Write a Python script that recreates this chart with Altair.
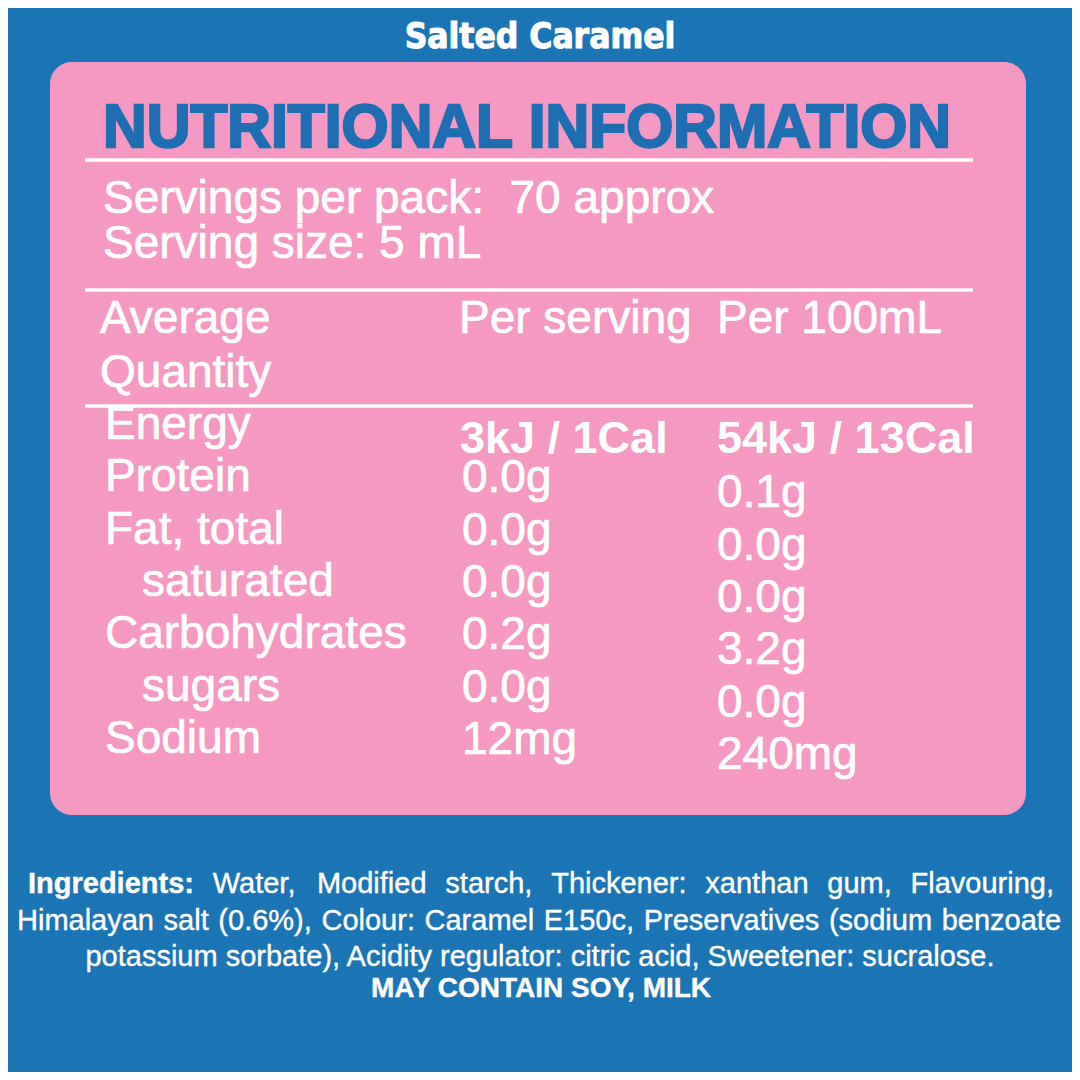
import altair as alt
import pandas as pd

# ---------------- data ----------------
title_text = "Salted Caramel"
heading = "NUTRITIONAL INFORMATION"
serving_lines = ["Servings per pack:\u00a0 70 approx", "Serving size: 5 mL"]
qty_header = ["Average", "Quantity"]
col_headers = ["Per serving", "Per 100mL"]
nutrients = ["Energy", "Protein", "Fat, total", "saturated", "Carbohydrates", "sugars", "Sodium"]
sub_row = [False, False, False, True, False, True, False]
per_serving = ["3kJ / 1Cal", "0.0g", "0.0g", "0.0g", "0.2g", "0.0g", "12mg"]
per_100ml = ["54kJ / 13Cal", "0.1g", "0.0g", "0.0g", "3.2g", "0.0g", "240mg"]
ingr_line1 = [("Ingredients:", True), ("Water,", False), ("Modified", False), ("starch,", False),
              ("Thickener:", False), ("xanthan", False), ("gum,", False), ("Flavouring,", False)]
ingr_line2 = "Himalayan salt (0.6%), Colour: Caramel E150c, Preservatives (sodium benzoate"
ingr_line3 = "potassium sorbate), Acidity regulator: citric acid, Sweetener: sucralose."
allergens = "MAY CONTAIN SOY, MILK"

# ---------------- style / layout ----------------
BLUE = "#1b75b4"
PINK = "#f599c2"
HEAD_BLUE = "#1d6fb1"
WHITE = "#ffffff"
SANS = "Liberation Sans, Arial, Helvetica, sans-serif"
NARROW = "DejaVu Sans Condensed, sans-serif"
TS = 46          # table font size
IS = 29          # ingredients font size

# Helvetica/Arial (Liberation Sans) advance widths, per 1000 em
REG = {' ': 278, '%': 889, '(': 333, ')': 333, ',': 278, '.': 278, '/': 278, ':': 278,
       'A': 667, 'B': 667, 'C': 722, 'D': 722, 'E': 667, 'F': 611, 'G': 778, 'H': 722, 'I': 278,
       'J': 500, 'K': 667, 'L': 556, 'M': 833, 'N': 722, 'O': 778, 'P': 667, 'Q': 778, 'R': 722,
       'S': 667, 'T': 611, 'U': 722, 'V': 667, 'W': 944, 'X': 667, 'Y': 667, 'Z': 611,
       'a': 556, 'b': 556, 'c': 500, 'd': 556, 'e': 556, 'f': 278, 'g': 556, 'h': 556, 'i': 222,
       'j': 222, 'k': 500, 'l': 222, 'm': 833, 'n': 556, 'o': 556, 'p': 556, 'q': 556, 'r': 333,
       's': 500, 't': 278, 'u': 556, 'v': 500, 'w': 722, 'x': 500, 'y': 500, 'z': 500}
BOLD = {' ': 278, '%': 889, '(': 333, ')': 333, ',': 278, '.': 278, '/': 278, ':': 333,
        'A': 722, 'B': 722, 'C': 722, 'D': 722, 'E': 667, 'F': 611, 'G': 778, 'H': 722, 'I': 278,
        'J': 556, 'K': 722, 'L': 611, 'M': 833, 'N': 722, 'O': 778, 'P': 667, 'Q': 778, 'R': 722,
        'S': 667, 'T': 611, 'U': 722, 'V': 667, 'W': 944, 'X': 667, 'Y': 667, 'Z': 611,
        'a': 556, 'b': 611, 'c': 556, 'd': 611, 'e': 556, 'f': 333, 'g': 611, 'h': 611, 'i': 278,
        'j': 278, 'k': 556, 'l': 278, 'm': 889, 'n': 611, 'o': 611, 'p': 611, 'q': 611, 'r': 389,
        's': 556, 't': 333, 'u': 611, 'v': 556, 'w': 778, 'x': 556, 'y': 556, 'z': 500}


def text_width(s, size, bold=False):
    tab = BOLD if bold else REG
    return sum(tab.get(ch, 556) for ch in s) * size / 1000.0


def justify(words, left, right, y, size):
    total = sum(text_width(w, size, b) for w, b in words)
    gap = (right - left - total) / (len(words) - 1)
    rows, x = [], left
    for w, b in words:
        rows.append({"x": x, "y": y, "t": w, "bold": b})
        x += text_width(w, size, b) + gap
    return rows


xs = alt.Scale(domain=[8, 1072], nice=False, zero=False)
ys = alt.Scale(domain=[8, 1072], nice=False, zero=False, reverse=True)


def X(f="x"):
    return alt.X(f"{f}:Q", scale=xs, axis=None)


def Y(f="y"):
    return alt.Y(f"{f}:Q", scale=ys, axis=None)


def text_layer(rows, **kw):
    base = dict(baseline="alphabetic", font=SANS, color=WHITE)
    base.update(kw)
    return alt.Chart(pd.DataFrame(rows)).mark_text(**base).encode(x=X(), y=Y(), text="t:N")


# card
card = alt.Chart(pd.DataFrame([{"x": 50, "x2": 1026, "y": 62, "y2": 815}])).mark_rect(
    color=PINK, cornerRadius=22).encode(x=X(), x2="x2:Q", y=Y(), y2="y2:Q")

# rules
rules = alt.Chart(pd.DataFrame({"x": [85, 85, 85], "x2": [973, 973, 973], "y": [160, 290, 406]})).mark_rule(
    color=WHITE, strokeWidth=3.5).encode(x=X(), x2="x2:Q", y=Y())

title = text_layer([{"x": 540, "y": 48, "t": title_text}], align="center", font=NARROW,
                   fontSize=35, fontWeight="bold", stroke=WHITE, strokeWidth=1.0)
head = text_layer([{"x": 103, "y": 147, "t": heading}], align="left", fontSize=60.5,
                  fontWeight="bold", color=HEAD_BLUE, stroke=HEAD_BLUE, strokeWidth=2.4)

W = dict(stroke=WHITE, strokeWidth=0.7)
serv = text_layer([{"x": 103, "y": 213 + 45 * i, "t": s} for i, s in enumerate(serving_lines)],
                  align="left", fontSize=TS, **W)
qty = text_layer([{"x": 100, "y": 333 + 54 * i, "t": s} for i, s in enumerate(qty_header)],
                 align="left", fontSize=TS, **W)
cols = text_layer([{"x": [459, 717][i], "y": 333, "t": s} for i, s in enumerate(col_headers)],
                  align="left", fontSize=TS, **W)

row_y = [439 + 52.3 * i for i in range(len(nutrients))]
labels = text_layer([{"x": 142 if sub_row[i] else 105, "y": row_y[i], "t": n}
                     for i, n in enumerate(nutrients)], align="left", fontSize=TS, **W)
serv_vals = text_layer([{"x": 462, "y": row_y[i] + 1, "t": v}
                        for i, v in enumerate(per_serving) if i > 0], align="left", fontSize=TS, **W)
hund_vals = text_layer([{"x": 717, "y": row_y[i] + 16, "t": v}
                        for i, v in enumerate(per_100ml) if i > 0], align="left", fontSize=TS, **W)
energy_vals = text_layer([{"x": 460, "y": row_y[0] + 14, "t": per_serving[0]},
                          {"x": 717, "y": row_y[0] + 14, "t": per_100ml[0]}],
                         align="left", fontSize=TS - 1, fontWeight="bold")

IW = dict(stroke=WHITE, strokeWidth=0.4)
l1 = justify(ingr_line1, 28, 1054, 893, IS)
l2 = justify([(w, False) for w in ingr_line2.split()], 17, 1061, 930, IS)
ingr_reg = text_layer([r for r in l1 + l2 if not r["bold"]], align="left", fontSize=IS, **IW)
ingr_bold = text_layer([r for r in l1 + l2 if r["bold"]], align="left", fontSize=IS,
                       fontWeight="bold", **IW)
ingr_l3 = text_layer([{"x": 540, "y": 966, "t": ingr_line3}], align="center", fontSize=IS, **IW)
allerg = text_layer([{"x": 541, "y": 997, "t": allergens}], align="center", fontSize=IS - 1,
                    fontWeight="bold", **IW)

chart = alt.layer(card, rules, title, head, serv, qty, cols, labels, serv_vals, hund_vals,
                  energy_vals, ingr_reg, ingr_bold, ingr_l3, allerg).properties(
    width=1064, height=1064, background=BLUE, padding=0,
    autosize=alt.AutoSizeParams(type="none")
).configure_view(strokeWidth=0)

chart.save("out.html", embed_options={"renderer": "svg", "actions": False})
